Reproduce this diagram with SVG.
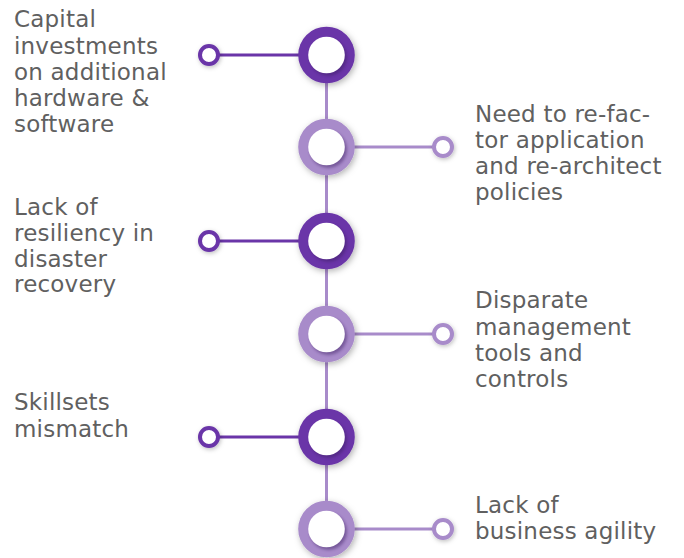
<svg xmlns="http://www.w3.org/2000/svg" width="684" height="558" viewBox="0 0 684 558">
<defs>
<filter id="ds" x="-50%" y="-50%" width="200%" height="200%">
<feDropShadow dx="1.5" dy="2" stdDeviation="3" flood-color="#000" flood-opacity="0.3"/>
</filter>
<filter id="sds" x="-80%" y="-80%" width="260%" height="260%">
<feDropShadow dx="1" dy="1.5" stdDeviation="2" flood-color="#000" flood-opacity="0.25"/>
</filter>
<filter id="blur" x="-50%" y="-50%" width="200%" height="200%">
<feGaussianBlur stdDeviation="1.5"/>
</filter>
</defs>
<style>
.t{font-family:"DejaVu Sans","Liberation Sans",sans-serif;font-size:23px;letter-spacing:0.2px;fill:#606060}
.dk{fill:#6a35a8}
.lt{fill:#a88bca}
.ldk{stroke:#6a35a8;stroke-width:3;fill:none}
.llt{stroke:#a88bca;stroke-width:3;fill:none}
.sh{fill:#3a1a60;opacity:0.45}
.w{fill:#fff}
.sdk{fill:#fff;stroke:#6a35a8;stroke-width:4}
.slt{fill:#fff;stroke:#a88bca;stroke-width:4}
</style>
<rect width="684" height="558" fill="#fff"/>
<g id="connectors">
<line class="llt" x1="326.5" y1="55" x2="326.5" y2="529"/>
<line class="ldk" x1="209" y1="55" x2="326" y2="55"/>
<line class="llt" x1="326" y1="147" x2="443" y2="147"/>
<line class="ldk" x1="209" y1="241" x2="326" y2="241"/>
<line class="llt" x1="326" y1="334" x2="443" y2="334"/>
<line class="ldk" x1="209" y1="437" x2="326" y2="437"/>
<line class="llt" x1="326" y1="529" x2="443" y2="529"/>
</g>
<g id="node1">
<circle class="sdk" cx="209" cy="55" r="9" filter="url(#sds)"/>
<circle class="dk" cx="326.5" cy="55" r="28.3" filter="url(#ds)"/>
<circle class="sh" cx="328.5" cy="57.5" r="18.5" filter="url(#blur)"/>
<circle class="w" cx="326.5" cy="55" r="18.3"/>
<text class="t" x="14"><tspan x="14" y="27">Capital</tspan><tspan x="14" y="53.5">investments</tspan><tspan x="14" y="80">on additional</tspan><tspan x="14" y="106">hardware &amp;</tspan><tspan x="14" y="132">software</tspan></text>
</g>
<g id="node2">
<circle class="slt" cx="443" cy="147" r="9" filter="url(#sds)"/>
<circle class="lt" cx="326.5" cy="147" r="28.3" filter="url(#ds)"/>
<circle class="sh" cx="328.5" cy="149.5" r="18.5" filter="url(#blur)" opacity="0.35"/>
<circle class="w" cx="326.5" cy="147" r="18.3"/>
<text class="t"><tspan x="475" y="122">Need to re-fac-</tspan><tspan x="475" y="148">tor application</tspan><tspan x="475" y="174">and re-architect</tspan><tspan x="475" y="199.5">policies</tspan></text>
</g>
<g id="node3">
<circle class="sdk" cx="209" cy="241" r="9" filter="url(#sds)"/>
<circle class="dk" cx="326.5" cy="241" r="28.3" filter="url(#ds)"/>
<circle class="sh" cx="328.5" cy="243.5" r="18.5" filter="url(#blur)"/>
<circle class="w" cx="326.5" cy="241" r="18.3"/>
<text class="t"><tspan x="14" y="215">Lack of</tspan><tspan x="14" y="241">resiliency in</tspan><tspan x="14" y="266.5">disaster</tspan><tspan x="14" y="292">recovery</tspan></text>
</g>
<g id="node4">
<circle class="slt" cx="443" cy="334" r="9" filter="url(#sds)"/>
<circle class="lt" cx="326.5" cy="334" r="28.3" filter="url(#ds)"/>
<circle class="sh" cx="328.5" cy="336.5" r="18.5" filter="url(#blur)" opacity="0.35"/>
<circle class="w" cx="326.5" cy="334" r="18.3"/>
<text class="t"><tspan x="475" y="308">Disparate</tspan><tspan x="475" y="334.5">management</tspan><tspan x="475" y="361">tools and</tspan><tspan x="475" y="387">controls</tspan></text>
</g>
<g id="node5">
<circle class="sdk" cx="209" cy="437" r="9" filter="url(#sds)"/>
<circle class="dk" cx="326.5" cy="437" r="28.3" filter="url(#ds)"/>
<circle class="sh" cx="328.5" cy="439.5" r="18.5" filter="url(#blur)"/>
<circle class="w" cx="326.5" cy="437" r="18.3"/>
<text class="t"><tspan x="14" y="410">Skillsets</tspan><tspan x="14" y="437">mismatch</tspan></text>
</g>
<g id="node6">
<circle class="slt" cx="443" cy="529" r="9" filter="url(#sds)"/>
<circle class="lt" cx="326.5" cy="529" r="28.3" filter="url(#ds)"/>
<circle class="sh" cx="328.5" cy="531.5" r="18.5" filter="url(#blur)" opacity="0.35"/>
<circle class="w" cx="326.5" cy="529" r="18.3"/>
<text class="t"><tspan x="475" y="513">Lack of</tspan><tspan x="475" y="538.5">business agility</tspan></text>
</g>
</svg>
